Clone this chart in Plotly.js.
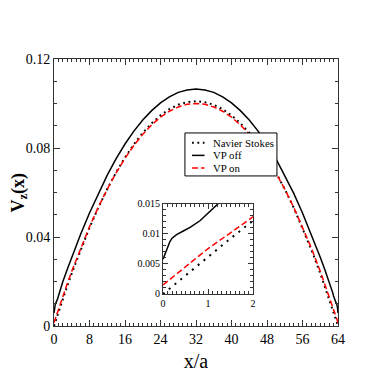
<!DOCTYPE html>
<html>
<head>
<meta charset="utf-8">
<script src="https://cdn.plot.ly/plotly-3.0.1.min.js"></script>
<style>html,body{margin:0;padding:0;background:#fff;}#chart{width:382px;height:382px;}</style>
</head>
<body>
<div id="chart"></div>
<script>
// x positions (x/a)
var xPos = [0,0.04,0.08,0.15,0.2,0.3,0.45,0.6,0.82,1,1.2,1.5,2,3,4,
  6,8,10,12,14,16,18,20,22,24,26,28,30,
  32,
  34,36,38,40,42,44,46,48,50,52,54,56,58,
  60,61,62,62.5,62.8,63,63.18,63.4,63.55,63.7,63.8,63.85,63.92,63.96,64];

// Navier Stokes
var navierStokes = [0,0.00025,0.0005,0.00094,0.00126,0.00188,0.00282,0.00375,0.00511,0.00621,0.00743,0.00925,0.01223,0.01805,0.02367,
  0.03432,0.04419,0.05326,0.06155,0.06904,0.07575,0.08167,0.0868,0.09113,0.09469,0.09744,0.09942,0.1006,
  0.101,
  0.1006,0.09942,0.09744,0.09469,0.09113,0.0868,0.08167,0.07575,0.06904,0.06155,0.05326,0.04419,0.03432,
  0.02367,0.01805,0.01223,0.00925,0.00743,0.00621,0.00511,0.00375,0.00282,0.00188,0.00126,0.00094,0.0005,0.00025,0];

// VP off
var vpOff = [0.0058,0.0066,0.0074,0.0087,0.0093,0.0099,0.0105,0.0111,0.0122,0.0135,0.0150,0.0170,0.0200,0.0255,0.0309,
  0.0412,0.0508,0.0597,0.0678,0.0752,0.0818,0.0876,0.0926,0.0968,0.1003,0.1030,0.1050,0.1061,
  0.1065,
  0.1061,0.1050,0.1030,0.1003,0.0968,0.0926,0.0876,0.0818,0.0752,0.0678,0.0597,0.0508,0.0412,
  0.0309,0.0255,0.0200,0.0170,0.0150,0.0135,0.0122,0.0111,0.0105,0.0099,0.0093,0.0087,0.0074,0.0066,0.0058];

// VP on
var vpOn = [0.0015,0.00175,0.00199,0.00242,0.00273,0.00334,0.00425,0.00516,0.00648,0.00756,0.00875,0.01052,0.01343,0.0191,0.02459,
  0.03497,0.04459,0.05344,0.06153,0.06883,0.07538,0.08115,0.08615,0.09038,0.09384,0.09653,0.09846,0.09962,
  0.1000,
  0.09962,0.09846,0.09653,0.09384,0.09038,0.08615,0.08115,0.07538,0.06883,0.06153,0.05344,0.04459,0.03497,
  0.02459,0.0191,0.01343,0.01052,0.00875,0.00756,0.00648,0.00516,0.00425,0.00334,0.00273,0.00242,0.00199,0.00175,0.0015];

var seriesNames = ['Navier Stokes','VP off','VP on'];
var xTickVals = [0,8,16,24,32,40,48,56,64];
var yTickVals = [0,0.04,0.08,0.12];
var yTickText = ['0','0.04','0.08','0.12'];
var insetXTicks = [0,1,2];
var insetYTicks = [0,0.005,0.01,0.015];
var insetYText = ['0','0.005','0.01','0.015'];
var yTitle = '<b>V<sub>z</sub>(x)</b>';

var serif = '"Liberation Serif", "Times New Roman", serif';

var mainStyles = [
  {color:'#000', width:2, dash:'1.8px,3.6px'},
  {color:'#000', width:1.5},
  {color:'#ff0000', width:1.5, dash:'6px,3px'}
];
var insetStyles = [
  {color:'#000', width:2, dash:'2px,5.5px'},
  {color:'#000', width:1.5},
  {color:'#ff0000', width:1.5, dash:'6px,3px'}
];
var seriesData = [navierStokes, vpOff, vpOn];

var traces = [];
seriesData.forEach(function(ys, i){
  traces.push({x:xPos, y:ys, name:seriesNames[i], mode:'lines', xaxis:'x', yaxis:'y',
    showlegend:false, line:mainStyles[i]});
});
seriesData.forEach(function(ys, i){
  traces.push({x:xPos, y:ys, name:seriesNames[i], mode:'lines', xaxis:'x2', yaxis:'y2',
    showlegend:false, line:insetStyles[i]});
});

// legend box (paper coordinates)
var legBox = {x0:0.461, x1:0.785, y0:0.562, y1:0.723};
var legRows = [0.686, 0.639, 0.592];
var legSampleX = [0.486, 0.530];
var legTextX = 0.553;

var shapes = [{type:'rect', xref:'paper', yref:'paper', x0:legBox.x0, x1:legBox.x1, y0:legBox.y0, y1:legBox.y1,
  line:{color:'#000', width:1}, fillcolor:'#fff', layer:'above'}];
var annotations = [];
seriesNames.forEach(function(n, i){
  var st = {color:mainStyles[i].color, width:mainStyles[i].width};
  if (mainStyles[i].dash) st.dash = mainStyles[i].dash;
  shapes.push({type:'line', xref:'paper', yref:'paper', x0:legSampleX[0], x1:legSampleX[1],
    y0:legRows[i], y1:legRows[i], line:st, layer:'above'});
  annotations.push({xref:'paper', yref:'paper', x:legTextX, y:legRows[i], xanchor:'left', yanchor:'middle',
    text:n, showarrow:false, font:{family:serif, size:10.8, color:'#000'}});
});
// y-axis title as rotated annotation
annotations.push({xref:'paper', yref:'paper', x:-0.123, y:0.5, xanchor:'center', yanchor:'middle',
  text:yTitle, textangle:-90, showarrow:false, font:{family:serif, size:18, color:'#000'}});

var axCommon = {showgrid:false, zeroline:false, showline:true, linecolor:'#333', linewidth:1,
  mirror:'ticks', ticks:'inside', tickcolor:'#333'};

var layout = {
  width:382, height:382,
  margin:{l:54, r:44, t:59, b:56},
  paper_bgcolor:'#fff', plot_bgcolor:'#fff',
  font:{family:serif, color:'#000'},
  showlegend:false,
  shapes:shapes,
  annotations:annotations,
  xaxis: Object.assign({}, axCommon, {
    domain:[0,1], range:[0,64], tickvals:xTickVals, ticklen:6,
    minor:{dtick:1, ticklen:3, ticks:'inside', tickcolor:'#333'},
    tickfont:{family:serif, size:14},
    title:{text:'x/a', font:{family:serif, size:20}, standoff:8}
  }),
  yaxis: Object.assign({}, axCommon, {
    domain:[0,1], range:[0,0.12], tickvals:yTickVals, ticktext:yTickText, ticklen:6,
    minor:{dtick:0.01, ticklen:3, ticks:'inside', tickcolor:'#333'},
    tickfont:{family:serif, size:14}
  }),
  xaxis2: Object.assign({}, axCommon, {
    domain:[0.384,0.701], anchor:'y2', range:[0,2], tickvals:insetXTicks, ticklen:5,
    minor:{dtick:0.1, ticklen:3, ticks:'inside', tickcolor:'#333'},
    tickfont:{family:serif, size:10}
  }),
  yaxis2: Object.assign({}, axCommon, {
    domain:[0.12,0.457], anchor:'x2', range:[0,0.015], tickvals:insetYTicks, ticktext:insetYText, ticklen:5,
    minor:{dtick:0.001, ticklen:3, ticks:'inside', tickcolor:'#333'},
    tickfont:{family:serif, size:10}
  })
};

Plotly.newPlot('chart', traces, layout, {staticPlot:true, displayModeBar:false});
</script>
</body>
</html>
